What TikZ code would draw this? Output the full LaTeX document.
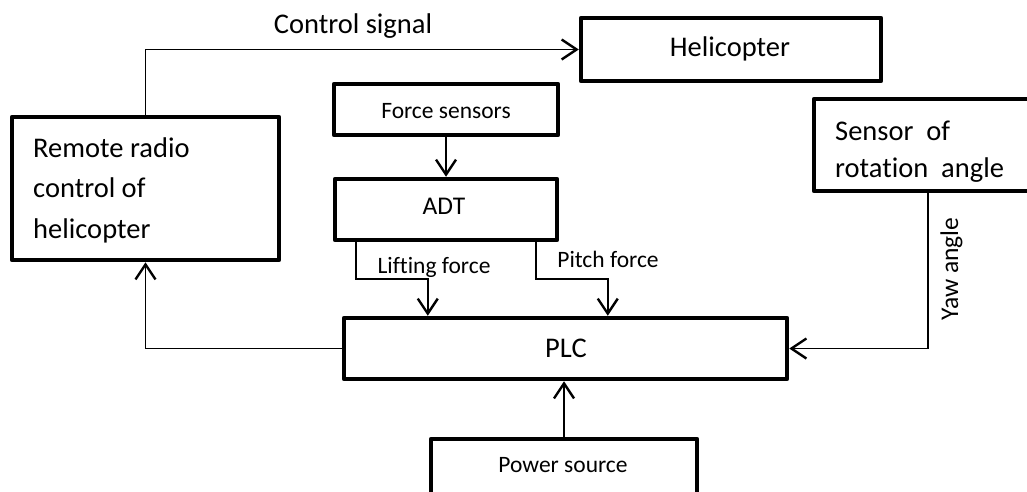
\documentclass[tikz,border=0pt]{standalone}
\usepackage{fontspec}
\setmainfont{Carlito}[Ligatures=NoCommon]
\usetikzlibrary{arrows.meta,calc}

\tikzset{
  blk/.style 2 args={draw, line width=4.5pt, line join=round, minimum width=#1,
    minimum height=#2, inner sep=0pt},
  wire/.style={line width=1.8pt, line join=miter},
  arr/.style={wire, -{Straight Barb[length=15pt,width=20pt,line width=2.4pt]}},
  bigtxt/.style={font=\fontsize{28.5}{34}\selectfont, inner sep=0pt},
  midtxt/.style={font=\fontsize{25.5}{30}\selectfont, inner sep=0pt},
  smalltxt/.style={font=\fontsize{23.5}{28}\selectfont, inner sep=0pt},
}

\begin{document}
\begin{tikzpicture}[x=1pt,y=-1pt]
\useasboundingbox (0,0) rectangle (1027,491);
\clip (0,0) rectangle (1027,491);

% blocks
\node[blk={267}{143}] (remote) at (145.5,188.5) {};
\node[blk={300}{63}]  (heli)   at (731,49.5) {};
\node[blk={224}{51}]  (force)  at (446,109.5) {};
\node[blk={222}{61}]  (adt)    at (446,209.5) {};
\node[blk={443}{61}]  (plc)    at (565.5,348.5) {};
\node[blk={266}{79}]  (power)  at (564,478.5) {};
\node[blk={234}{92}]  (sensor) at (931,145) {};

% block texts
\node[bigtxt, anchor=base west] (remote1) at (33,157) {Remote radio};
\node[bigtxt, anchor=base west] (remote2) at (33,197) {control of};
\node[bigtxt, anchor=base west] (remote3) at (33,238) {helicopter};
\node[bigtxt, anchor=base] (helitxt) at (730,56) {Helicopter};
\node[smalltxt, anchor=base] (forcetxt) at (446,118) {Force sensors};
\node[midtxt, anchor=base] (adttxt) at (444,214) {ADT};
\node[bigtxt, anchor=base] (plctxt) at (566,357) {PLC};
\node[smalltxt, anchor=base] (powertxt) at (563,472) {Power source};
\begin{scope}
  \clip (814,99) rectangle (1027,181);
  \node[bigtxt, anchor=base west] (sensor1) at (835,140) {Sensor\ \ of};
  \node[bigtxt, anchor=base west] (sensor2) at (835,177) {rotation\ \ angle};
\end{scope}

% connectors
\draw[arr] (remote.north) |- (heli.west);
\draw[arr] (force.south) -- (force.south |- adt.north);
\draw[arr] ($(adt.south west)+(23,0)$) -- ++(0,37) -| ($(plc.north west)+(86,0)$);
\draw[arr] ($(adt.south west)+(203,0)$) -- ++(0,37) -| ($(plc.north west)+(266,0)$);
\draw[arr] ($(sensor.south west)+(116,0)$) |- (plc.east);
\draw[arr] (plc.west) -| (remote.south);
\draw[arr] (power.north) -- (power.north |- plc.south);

% connector labels
\node[bigtxt, anchor=base] (ctrl) at (353,33) {Control signal};
\node[smalltxt, anchor=base] (lift) at (434,273) {Lifting force};
\node[smalltxt, anchor=base] (pitch) at (608,267) {Pitch force};
\node[midtxt, anchor=base, rotate=90] (yaw) at (958,269) {Yaw angle};
\end{tikzpicture}
\end{document}
